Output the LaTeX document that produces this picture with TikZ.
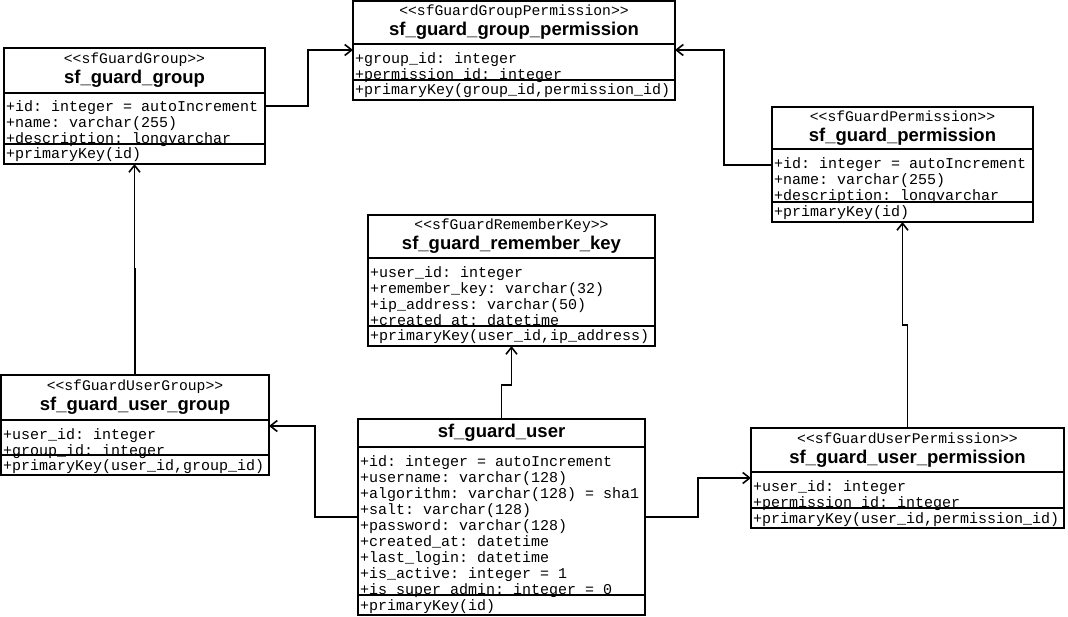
\documentclass[tikz,border=0pt]{standalone}
\usepackage{fontspec}
\setsansfont{Liberation Sans}
\setmonofont{Liberation Mono}[WordSpace={1,0,0}]
\usetikzlibrary{arrows.meta}
\newcommand{\stereo}[1]{{\ttfamily\mdseries\fontsize{14.7}{16}\selectfont<<#1>>}\\}
\newcommand{\firstrow}{\rule{0pt}{19pt}}
\newcommand{\onerow}{\rule[-5pt]{0pt}{20pt}}
\newcommand{\monospaces}{\frenchspacing\spaceskip=9pt\relax\xspaceskip=9pt\relax}
\begin{document}
\begin{tikzpicture}[x=1pt,y=-1pt,
  box/.style={draw,line width=1.5pt,outer sep=0pt,inner xsep=2pt,inner ysep=0pt,anchor=north west},
  head/.style={box,align=center,font=\sffamily\bfseries\fontsize{18.5}{20}\selectfont},
  attrs/.style={box,align=left,font=\ttfamily\fontsize{15}{16}\selectfont},
  assoc/.style={line width=1.6pt,-{Straight Barb[length=7pt,width=11pt]}}]
\useasboundingbox (0,0) rectangle (1068,617);
% sf_guard_group_permission
\node[head,text width=318pt,minimum height=43pt] (gperm) at (353,1) {\stereo{sfGuardGroupPermission}sf\_guard\_group\_permission};
\node[attrs,text width=318pt,minimum height=36pt] (gpermattr) at (gperm.south west) {\monospaces\firstrow+group\_id: integer\\\smash{+permission\_id: integer}};
\node[attrs,text width=318pt,minimum height=20pt] (gpermmeth) at (gpermattr.south west) {\onerow+primaryKey(group\_id,permission\_id)};
% sf_guard_group
\node[head,text width=257pt,minimum height=45pt] (grp) at (4,48) {\stereo{sfGuardGroup}sf\_guard\_group};
\node[attrs,text width=257pt,minimum height=51pt] (grpattr) at (grp.south west) {\monospaces\firstrow+id: integer = autoIncrement\\+name: varchar(255)\\\smash{+description: longvarchar}};
\node[attrs,text width=257pt,minimum height=20pt] (grpmeth) at (grpattr.south west) {\onerow+primaryKey(id)};
% sf_guard_permission
\node[head,text width=257pt,minimum height=42pt] (perm) at (772,107) {\stereo{sfGuardPermission}sf\_guard\_permission};
\node[attrs,text width=257pt,minimum height=53pt] (permattr) at (perm.south west) {\monospaces\firstrow+id: integer = autoIncrement\\+name: varchar(255)\\\smash{+description: longvarchar}};
\node[attrs,text width=257pt,minimum height=20pt] (permmeth) at (permattr.south west) {\onerow+primaryKey(id)};
% sf_guard_remember_key
\node[head,text width=283pt,minimum height=43pt] (rkey) at (368,215) {\stereo{sfGuardRememberKey}sf\_guard\_remember\_key};
\node[attrs,text width=283pt,minimum height=68pt] (rkeyattr) at (rkey.south west) {\monospaces\firstrow+user\_id: integer\\+remember\_key: varchar(32)\\+ip\_address: varchar(50)\\\smash{+created\_at: datetime}};
\node[attrs,text width=283pt,minimum height=20pt] (rkeymeth) at (rkeyattr.south west) {\onerow+primaryKey(user\_id,ip\_address)};
% sf_guard_user_group
\node[head,text width=264pt,minimum height=45pt] (ugrp) at (1,375) {\stereo{sfGuardUserGroup}sf\_guard\_user\_group};
\node[attrs,text width=264pt,minimum height=35pt] (ugrpattr) at (ugrp.south west) {\monospaces\firstrow+user\_id: integer\\\smash{+group\_id: integer}};
\node[attrs,text width=264pt,minimum height=20pt] (ugrpmeth) at (ugrpattr.south west) {\onerow+primaryKey(user\_id,group\_id)};
% sf_guard_user
\node[head,text width=283pt,minimum height=28pt] (usr) at (358,419) {sf\_guard\_user};
\node[attrs,text width=283pt,minimum height=148pt] (usrattr) at (usr.south west) {\monospaces\firstrow+id: integer = autoIncrement\\+username: varchar(128)\\+algorithm: varchar(128) = sha1\\+salt: varchar(128)\\+password: varchar(128)\\+created\_at: datetime\\+last\_login: datetime\\+is\_active: integer = 1\\\smash{+is\_super\_admin: integer = 0}};
\node[attrs,text width=283pt,minimum height=20pt] (usrmeth) at (usrattr.south west) {\onerow+primaryKey(id)};
% sf_guard_user_permission
\node[head,text width=309pt,minimum height=44pt] (uperm) at (751,428) {\stereo{sfGuardUserPermission}sf\_guard\_user\_permission};
\node[attrs,text width=309pt,minimum height=36pt] (upermattr) at (uperm.south west) {\monospaces\firstrow+user\_id: integer\\\smash{+permission\_id: integer}};
\node[attrs,text width=309pt,minimum height=20pt] (upermmeth) at (upermattr.south west) {\onerow+primaryKey(user\_id,permission\_id)};
% connectors
\draw[assoc] ([yshift=-13pt]grpattr.north east) -- ++(43,0) |- ([yshift=-6pt]gpermattr.north west);
\draw[assoc] ([yshift=-16pt]permattr.north west) -- ++(-48,0) |- ([yshift=-6pt]gpermattr.north east);
\draw[assoc] ([yshift=-70pt]usrattr.north west) -- ++(-43,0) |- ([yshift=-6pt]ugrpattr.north east);
\draw[assoc] ([yshift=-70pt]usrattr.north east) -- ++(53,0) |- ([yshift=-6pt]upermattr.north west);
\draw[assoc] (usr.north) -- ++(0,-34) -| (rkeymeth.south);
\draw[assoc] (ugrp.north) -- ++(0,-106) -| (grpmeth.south);
\draw[assoc] (uperm.north) -- ++(0,-103) -| (permmeth.south);
\end{tikzpicture}
\end{document}
